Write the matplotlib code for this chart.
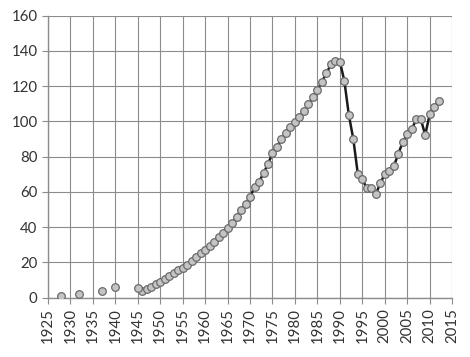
import matplotlib
matplotlib.use('Agg')
import matplotlib.pyplot as plt

plt.rcParams['font.family'] = ['Lato', 'DejaVu Sans']

# early scattered observations (no connecting line)
early_years = [1928, 1932, 1937, 1940, 1945]
early_vals = [1.0, 2.3, 4.0, 5.9, 5.4]

# annual series from 1946 on
years = list(range(1946, 2013))
vals = [
    3.8, 5.0, 6.2, 8.0, 9.1, 10.6, 12.3, 13.8, 15.7,          # 1946-1954
    16.9, 18.6, 21.0, 22.9, 25.2, 27.1, 29.3, 31.8, 34.3,     # 1955-1963
    36.6, 39.7, 42.2, 46.0, 49.8, 53.0, 57.3, 62.6, 65.8,     # 1964-1972
    70.6, 75.9, 81.9, 85.7, 89.9, 93.6, 97.0, 99.9, 102.7,    # 1973-1981
    106.1, 109.9, 113.7, 117.8, 122.6, 127.3, 132.4, 134.5,   # 1982-1989
    134.0, 123.0, 103.7, 89.9, 70.2, 67.2, 62.0, 62.2, 58.8,  # 1990-1998
    64.9, 70.2, 72.0, 74.5, 81.5, 88.3, 92.7, 95.5, 101.2,    # 1999-2007
    101.6, 92.3, 104.0, 108.4, 111.6,                         # 2008-2012
]

fig, ax = plt.subplots(figsize=(4.7, 3.57), dpi=100)
fig.subplots_adjust(left=0.102, right=0.962, top=0.956, bottom=0.166)

marker_kw = dict(marker='o', markersize=5.5, markerfacecolor='#c4c4c4',
                 markeredgecolor='#6a6a6a', markeredgewidth=0.9)
ax.plot(years, vals, color='#1a1a1a', linewidth=1.8, zorder=3, **marker_kw)
ax.plot(early_years, early_vals, linestyle='none', zorder=3, **marker_kw)

ax.set_xlim(1925, 2015)
ax.set_ylim(0, 160)
ax.set_xticks(range(1925, 2016, 5))
ax.set_yticks(range(0, 161, 20))
plt.setp(ax.get_xticklabels(), rotation=90)

ax.grid(True, color='#8c8c8c', linewidth=0.8)
ax.set_axisbelow(True)
for side in ('top', 'right'):
    ax.spines[side].set_visible(False)
for side in ('left', 'bottom'):
    ax.spines[side].set_color('#8c8c8c')
    ax.spines[side].set_linewidth(1.0)
ax.tick_params(axis='both', colors='#8c8c8c', labelcolor='#333333',
               labelsize=10.8, length=4, direction='out')

fig.savefig('out.png', dpi=100, facecolor='white')
